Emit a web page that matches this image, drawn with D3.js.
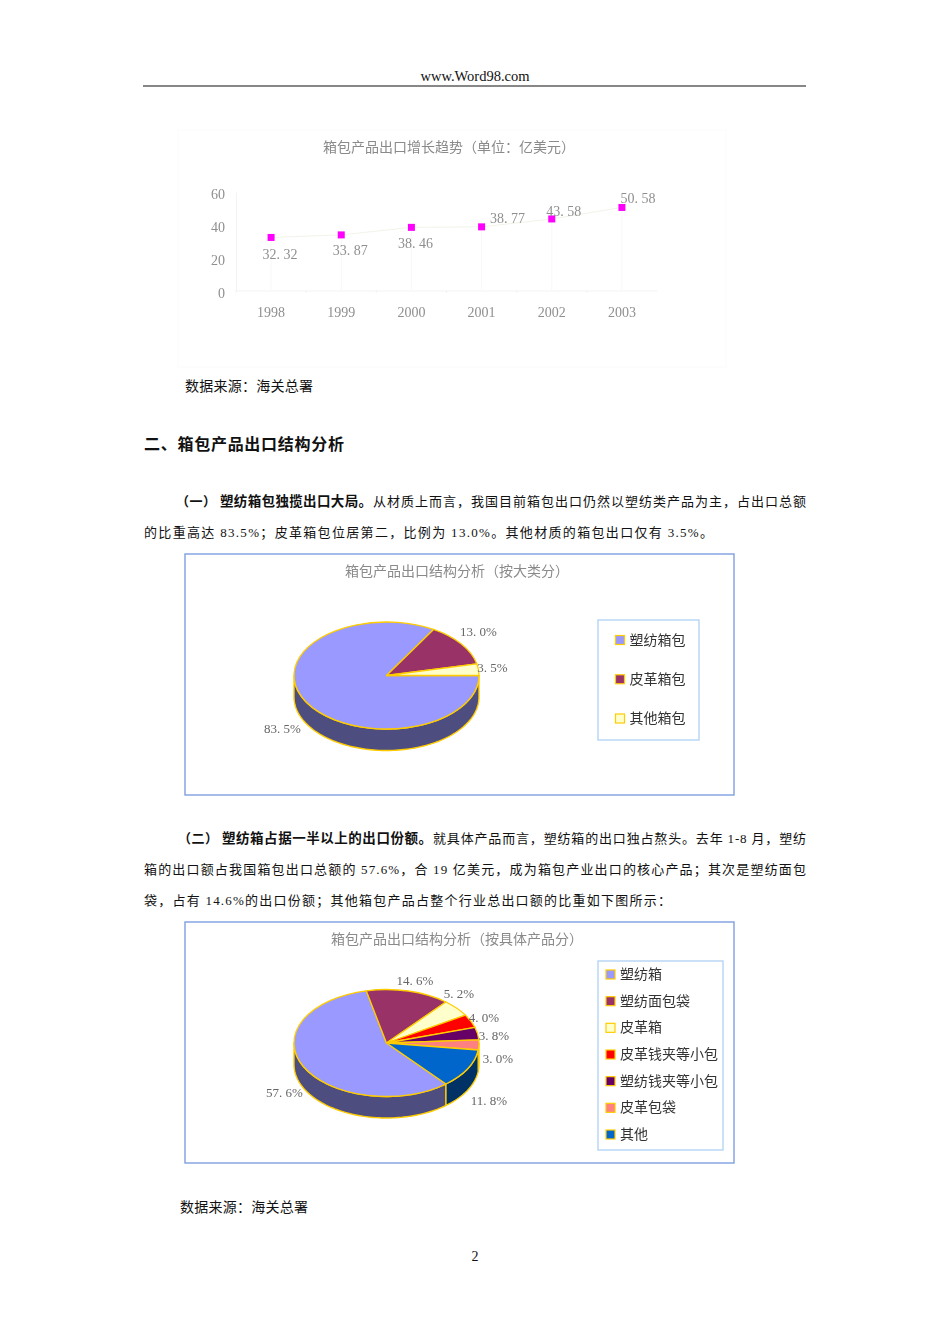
<!DOCTYPE html>
<html>
<head>
<meta charset="utf-8">
<script src="https://cdn.jsdelivr.net/npm/d3@7"></script>
<style>
html, body { margin: 0; padding: 0; background: #fff; }
svg { display: block; }
text { font-family: "Liberation Serif", "Noto Sans CJK SC", serif; }
</style>
</head>
<body>
<svg id="svg"></svg>
<script>
// data
var years = ["1998", "1999", "2000", "2001", "2002", "2003"];
var exportValues = [32.32, 33.87, 38.46, 38.77, 43.58, 50.58];
var yTicks = [0, 20, 40, 60];

var bigCategories = ["塑纺箱包", "皮革箱包", "其他箱包"];
var bigValues = [83.5, 13.0, 3.5];

var productCategories = ["塑纺箱", "塑纺面包袋", "皮革箱", "皮革钱夹等小包", "塑纺钱夹等小包", "皮革包袋", "其他"];
var productValues = [57.6, 14.6, 5.2, 4.0, 3.8, 3.0, 11.8];

var sliceColors = ["#9999FF", "#993366", "#FFFFCC", "#FF0000", "#660066", "#FF8080", "#0066CC"];
var wallColors = ["#4D4D80", "#4D1933", "#808066", "#800000", "#330033", "#804040", "#003366"];

var width = 950;
var height = 1344;

var svg = d3.select("#svg").attr("width", width).attr("height", height);

var defs = svg.append("defs");
defs.append("filter").attr("id", "soft")
    .attr("x", "-5%").attr("y", "-5%").attr("width", "110%").attr("height", "110%")
  .append("feGaussianBlur").attr("stdDeviation", 0.45);

// page text ------------------------------------------------------------
function pageText(str, x0, x1, y, size, weight) {
  return svg.append("text")
      .attr("x", x0)
      .attr("y", y)
      .attr("dominant-baseline", "central")
      .attr("font-size", size)
      .attr("font-weight", weight || "normal")
      .attr("fill", "#111")
      .attr("textLength", x1 - x0)
      .attr("lengthAdjust", "spacing")
      .text(str);
}

svg.append("text").attr("x", 475).attr("y", 75.5)
    .attr("text-anchor", "middle").attr("dominant-baseline", "central")
    .attr("font-size", 14.5).attr("fill", "#111").text("www.Word98.com");
svg.append("line").attr("x1", 143).attr("x2", 806).attr("y1", 86).attr("y2", 86)
    .attr("stroke", "#111").attr("stroke-width", 1.2);

pageText("数据来源：海关总署", 185, 313, 386, 14);
pageText("二、箱包产品出口结构分析", 144, 344, 444, 16, "bold");

pageText("（一）", 176, 216, 501, 13, "bold");
pageText("塑纺箱包独揽出口大局。", 220, 372, 501, 13.5, "bold");
pageText("从材质上而言，我国目前箱包出口仍然以塑纺类产品为主，占出口总额", 373, 806, 501, 13);
pageText("的比重高达 83.5%；皮革箱包位居第二，比例为 13.0%。其他材质的箱包出口仅有 3.5%。", 144, 713, 532, 13);

pageText("（二）", 178, 218, 838, 13, "bold");
pageText("塑纺箱占据一半以上的出口份额。", 222, 432, 838, 13.5, "bold");
pageText("就具体产品而言，塑纺箱的出口独占熬头。去年 1-8 月，塑纺", 433, 806, 838, 13);
pageText("箱的出口额占我国箱包出口总额的 57.6%，合 19 亿美元，成为箱包产业出口的核心产品；其次是塑纺面包", 144, 806, 869, 13);
pageText("袋，占有 14.6%的出口份额；其他箱包产品占整个行业总出口额的比重如下图所示：", 144, 671, 900, 13);

pageText("数据来源：海关总署", 180, 308, 1207, 14);
svg.append("text").attr("x", 475).attr("y", 1256.5)
    .attr("text-anchor", "middle").attr("dominant-baseline", "central")
    .attr("font-size", 14).attr("fill", "#111").text("2");

// line chart -----------------------------------------------------------
var lineChart = svg.append("g").attr("filter", "url(#soft)");

lineChart.append("rect")
    .attr("x", 178).attr("y", 130).attr("width", 548).attr("height", 237)
    .attr("fill", "#fff").attr("stroke", "#fbfbfb");

lineChart.append("text").attr("x", 449).attr("y", 147)
    .attr("text-anchor", "middle").attr("dominant-baseline", "central")
    .attr("font-size", 14).attr("fill", "#8a8a8a")
    .text("箱包产品出口增长趋势（单位：亿美元）");

var x = d3.scaleBand().domain(years).range([236, 657]);
var y = d3.scaleLinear().domain([0, 60]).range([290.5, 192]);

var yAxis = lineChart.append("g").attr("transform", "translate(236,0)")
    .call(d3.axisLeft(y).tickValues(yTicks).tickSize(0).tickPadding(11));
var xAxis = lineChart.append("g").attr("transform", "translate(0,290.5)")
    .call(d3.axisBottom(x).tickSize(0).tickPadding(17));

yAxis.selectAll("text").attr("dy", "0.47em");

[yAxis, xAxis].forEach(function (axis) {
  axis.select(".domain").attr("stroke", "#f3f3f3");
  axis.selectAll("text")
      .attr("font-family", null)
      .style("font-size", "14px")
      .attr("fill", "#8f8f8f");
});

// faint drop lines under the markers, hardly there in the original
lineChart.append("g").selectAll("line")
    .data(exportValues)
    .join("line")
      .attr("x1", (d, i) => x(years[i]) + x.bandwidth() / 2)
      .attr("x2", (d, i) => x(years[i]) + x.bandwidth() / 2)
      .attr("y1", d => y(d))
      .attr("y2", y(0))
      .attr("stroke", "#f8f8f8");

lineChart.append("g").selectAll("line.tick")
    .data(years)
    .join("line")
      .attr("x1", d => x(d))
      .attr("x2", d => x(d))
      .attr("y1", y(0))
      .attr("y2", y(0) + 2)
      .attr("stroke", "#eee");

lineChart.append("path")
    .datum(exportValues)
    .attr("fill", "none")
    .attr("stroke", "#f3f3ea")
    .attr("d", d3.line()
      .x((d, i) => x(years[i]) + x.bandwidth() / 2)
      .y(d => y(d)));

lineChart.append("g").selectAll("rect")
    .data(exportValues)
    .join("rect")
      .attr("x", (d, i) => x(years[i]) + x.bandwidth() / 2 - 3.5)
      .attr("y", d => y(d) - 3.5)
      .attr("width", 7)
      .attr("height", 7)
      .attr("fill", "#FF00FF");

// label offsets from each marker, the labels sit wherever excel left them
var lineLabelOffsets = [[9, 17], [9, 16], [4, 16.5], [26, -8], [12, -7], [16, -8.5]];

lineChart.append("g").selectAll("text")
    .data(exportValues)
    .join("text")
      .attr("x", (d, i) => x(years[i]) + x.bandwidth() / 2 + lineLabelOffsets[i][0])
      .attr("y", (d, i) => y(d) + lineLabelOffsets[i][1])
      .attr("text-anchor", "middle")
      .attr("dominant-baseline", "central")
      .attr("font-size", 14)
      .attr("fill", "#8f8f8f")
      .text(d => d.toFixed(2).replace(".", ". "));

// pie charts -----------------------------------------------------------
function drawPie(opts) {
  var g = svg.append("g").attr("filter", "url(#soft)");

  g.append("rect")
      .attr("x", 185).attr("y", opts.top).attr("width", 549).attr("height", 241)
      .attr("fill", "#fff").attr("stroke", "#7F9FE0").attr("stroke-width", 1.4);

  g.append("text").attr("x", opts.titleX).attr("y", opts.top + 17)
      .attr("text-anchor", "middle").attr("dominant-baseline", "central")
      .attr("font-size", 14).attr("fill", "#8a8a8a")
      .text(opts.title);

  var cx = 386.5, cy = opts.cy, rx = 92.5, ry = 53.5, depth = 21.5;
  var start = opts.startDeg * Math.PI / 180;

  var arcs = d3.pie().sort(null)
      .startAngle(start)
      .endAngle(start + 2 * Math.PI)(opts.values);

  var px = a => cx + rx * Math.sin(a);
  var py = a => cy - ry * Math.cos(a);

  // side wall, only the part of each slice on the front half of the ellipse
  var wallPieces = [];
  arcs.forEach(function (d) {
    [0, -2 * Math.PI].forEach(function (k) {
      var lo = Math.max(d.startAngle + k, Math.PI / 2);
      var hi = Math.min(d.endAngle + k, 3 * Math.PI / 2);
      if (hi > lo) wallPieces.push({ index: d.index, lo: lo, hi: hi });
    });
  });

  var wallLine = d3.line().x(p => p[0]).y(p => p[1]);
  g.append("g").selectAll("path")
      .data(wallPieces)
      .join("path")
        .attr("fill", d => wallColors[d.index])
        .attr("stroke", "#FFCC00")
        .attr("stroke-width", 1.4)
        .attr("stroke-linejoin", "round")
        .attr("d", function (d) {
          var angles = d3.range(d.lo, d.hi, 0.03).concat([d.hi]);
          var topEdge = angles.map(a => [px(a), py(a)]);
          var lowEdge = angles.slice().reverse().map(a => [px(a), py(a) + depth]);
          return wallLine(topEdge.concat(lowEdge)) + "Z";
        });

  // top face, a round arc squeezed into an ellipse
  var arc = d3.arc().innerRadius(0).outerRadius(rx);
  g.append("g")
      .attr("transform", "translate(" + cx + "," + cy + ") scale(1," + (ry / rx) + ")")
    .selectAll("path")
    .data(arcs)
    .join("path")
      .attr("d", arc)
      .attr("fill", d => sliceColors[d.index])
      .attr("stroke", "#FFCC00")
      .attr("stroke-width", 1.3)
      .attr("stroke-linejoin", "round")
      .attr("vector-effect", "non-scaling-stroke");

  g.append("g").selectAll("text")
      .data(opts.values)
      .join("text")
        .attr("x", (d, i) => cx + opts.labelOffsets[i][0])
        .attr("y", (d, i) => cy + opts.labelOffsets[i][1])
        .attr("text-anchor", "middle")
        .attr("dominant-baseline", "central")
        .attr("font-size", 13)
        .attr("fill", "#666")
        .text(d => d.toFixed(1).replace(".", ". ") + "%");

  // legend
  g.append("rect")
      .attr("x", 598).attr("y", opts.legendTop)
      .attr("width", opts.legendWidth).attr("height", opts.legendHeight)
      .attr("fill", "#fff").attr("stroke", "#B4D4F4").attr("stroke-width", 1.4);

  var legendY = d3.scalePoint()
      .domain(opts.categories)
      .range(opts.legendRange);

  var item = g.append("g").selectAll("g")
      .data(opts.categories)
      .join("g")
        .attr("transform", d => "translate(" + opts.legendX + "," + legendY(d) + ")");

  item.append("rect")
      .attr("x", 0).attr("y", -4.5).attr("width", 9).attr("height", 9)
      .attr("fill", (d, i) => sliceColors[i])
      .attr("stroke", "#FFCC00")
      .attr("stroke-width", 1.2);

  item.append("text")
      .attr("x", 14)
      .attr("dominant-baseline", "central")
      .attr("font-size", 14)
      .attr("fill", "#333")
      .text(d => d);
}

drawPie({
  top: 554,
  title: "箱包产品出口结构分析（按大类分）",
  titleX: 457,
  cy: 675.5,
  startDeg: 90,
  values: bigValues,
  categories: bigCategories,
  labelOffsets: [[-104, 53], [92, -44.5], [106, -8.5]],
  legendTop: 620,
  legendWidth: 101,
  legendHeight: 120,
  legendX: 615.5,
  legendRange: [640, 718.5]
});

drawPie({
  top: 922,
  title: "箱包产品出口结构分析（按具体产品分）",
  titleX: 457,
  cy: 1043,
  startDeg: 140,
  values: productValues,
  categories: productCategories,
  labelOffsets: [[-102, 49], [28.5, -63], [72.5, -50], [97.5, -26], [107.5, -8], [111.5, 15], [102.5, 57]],
  legendTop: 961,
  legendWidth: 125,
  legendHeight: 189,
  legendX: 606,
  legendRange: [974.5, 1134.5]
});
</script>
</body>
</html>
